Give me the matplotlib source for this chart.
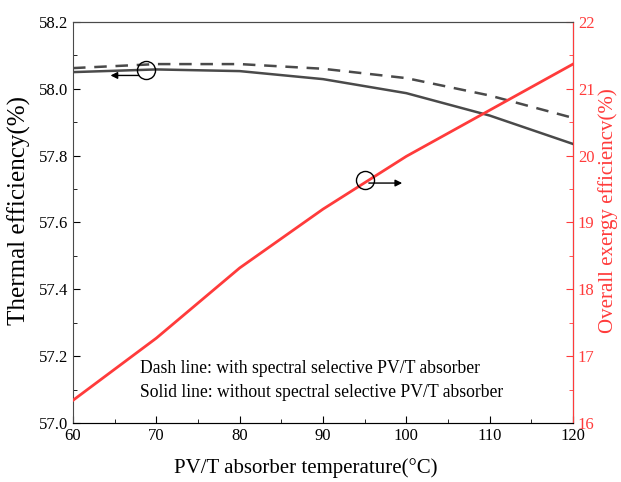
import numpy as np
import matplotlib.pyplot as plt
from matplotlib.ticker import MultipleLocator

plt.rcParams['font.family'] = ['Liberation Serif', 'DejaVu Serif']
plt.rcParams['mathtext.fontset'] = 'stix'

# Temperatura del absorbedor PV/T
temp = [60, 70, 80, 90, 100, 110, 120]
# Eficiencia térmica (%)
eff_sin = [58.050, 58.058, 58.053, 58.029, 57.987, 57.920, 57.835]
eff_con = [58.062, 58.074, 58.074, 58.060, 58.032, 57.980, 57.913]
# Eficiencia exergética global (%)
exergia = [16.34, 17.27, 18.32, 19.20, 19.99, 20.68, 21.37]

gris = '#4a4a4a'
rojo = '#ff3b3b'

fig = plt.figure(figsize=(6.21, 4.82), dpi=100)
ax = fig.add_axes([0.1176, 0.1224, 0.8051, 0.832])
ax2 = ax.twinx()

ax.plot(temp, eff_sin, '-', color=gris, lw=1.8)
ax.plot(temp, eff_con, '--', color=gris, lw=1.8, dashes=(5, 3.5))
ax2.plot(temp, exergia, '-', color=rojo, lw=2)

ax.set_xlim(60, 120)
ax.set_ylim(57.0, 58.2)
ax2.set_ylim(16, 22)

ax.xaxis.set_major_locator(MultipleLocator(10))
ax.xaxis.set_minor_locator(MultipleLocator(5))
ax.yaxis.set_major_locator(MultipleLocator(0.2))
ax.yaxis.set_minor_locator(MultipleLocator(0.1))
ax2.yaxis.set_major_locator(MultipleLocator(1))
ax2.yaxis.set_minor_locator(MultipleLocator(0.5))
ax.yaxis.set_major_formatter(plt.FormatStrFormatter('%.1f'))

ax.tick_params(axis='x', which='both', direction='in', top=False, labelsize=12, colors='black')
ax.tick_params(axis='x', which='major', length=5)
ax.tick_params(axis='x', which='minor', length=3)
ax.tick_params(axis='y', which='major', direction='in', length=5, labelsize=12)
ax.tick_params(axis='y', which='minor', direction='in', length=3)
ax2.tick_params(axis='y', which='major', direction='in', length=5, labelsize=12,
                colors=rojo)
ax2.tick_params(axis='y', which='minor', direction='in', length=3, colors=rojo)

ax.spines['left'].set_color(gris)
ax.spines['bottom'].set_color(gris)
ax.spines['top'].set_color(gris)
ax2.spines['right'].set_color(rojo)
ax2.spines['left'].set_visible(False)
ax2.spines['top'].set_color(gris)

ax.set_xlabel('PV/T absorber temperature(°C)', fontsize=15)
ax.set_ylabel('Thermal efficiency(%)', fontsize=18)
ax2.set_ylabel('Overall exergy efficiencv(%)', fontsize=15, color=rojo)
ax.xaxis.set_label_coords(0.466, -0.088)
ax.yaxis.set_label_coords(-0.084, 0.53)
ax2.yaxis.set_label_coords(1.05, 0.53)

# Círculos indicadores y flechas
ax.plot([68.7], [58.057], 'o', ms=13, mfc='none', mec='black', mew=1)
ax.annotate('', xy=(64.5, 58.04), xytext=(67.9, 58.04),
            arrowprops=dict(arrowstyle='-|>', color='black', lw=1,
                            mutation_scale=10, shrinkA=0, shrinkB=0))
ax2.plot([95], [19.63], 'o', ms=13, mfc='none', mec='black', mew=1)
ax2.annotate('', xy=(99.5, 19.59), xytext=(95.5, 19.59),
             arrowprops=dict(arrowstyle='-|>', color='black', lw=1,
                             mutation_scale=10, shrinkA=0, shrinkB=0))

ax.text(0.134, 0.137, 'Dash line: with spectral selective PV/T absorber',
        transform=ax.transAxes, fontsize=12.7, va='center')
ax.text(0.134, 0.075, 'Solid line: without spectral selective PV/T absorber',
        transform=ax.transAxes, fontsize=12.7, va='center')

fig.savefig('out.png', dpi=100)
